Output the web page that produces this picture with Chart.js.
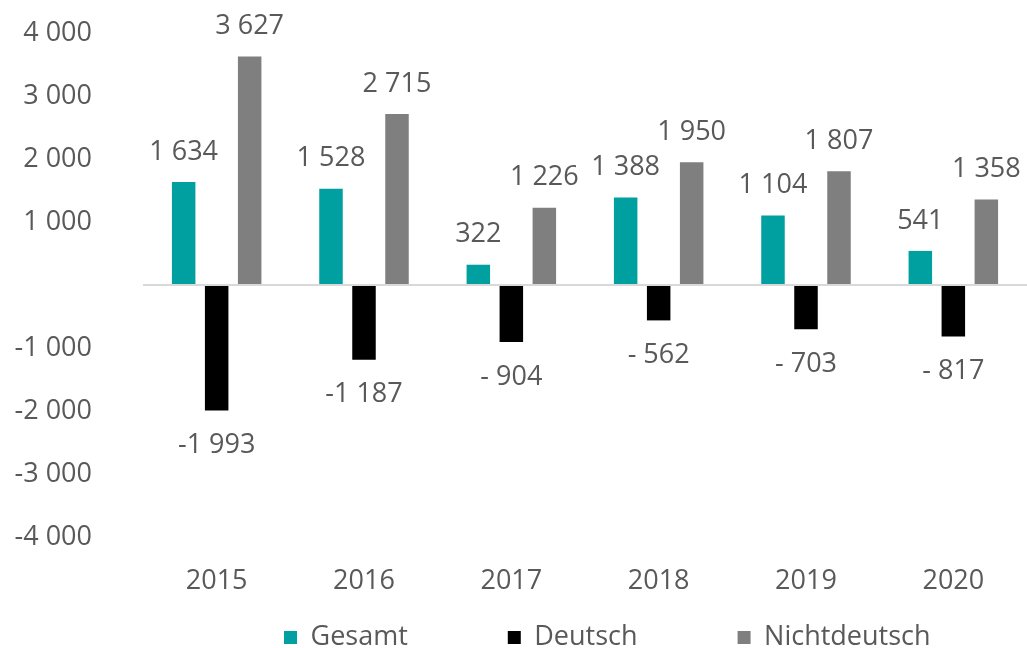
<!DOCTYPE html>
<html>
<head>
<meta charset="utf-8">
<script src="https://cdn.jsdelivr.net/npm/chart.js@4/dist/chart.umd.min.js"></script>
<style>
  html, body { margin: 0; padding: 0; background: #ffffff; }
  #wrap { width: 1027px; height: 648px; position: relative; }
</style>
</head>
<body>
<div id="wrap"><canvas id="c" width="1027" height="648"></canvas></div>
<script>
// ---- data ----
const years = ['2015', '2016', '2017', '2018', '2019', '2020'];
const seriesNames = ['Gesamt', 'Deutsch', 'Nichtdeutsch'];
const gesamt = [1634, 1528, 322, 1388, 1104, 541];
const deutsch = [-1993, -1187, -904, -562, -703, -817];
const nichtdeutsch = [3627, 2715, 1226, 1950, 1807, 1358];
const yTicks = [-4000, -3000, -2000, -1000, 0, 1000, 2000, 3000, 4000];

// ---- styling ----
const FONT = "'Open Sans', 'Liberation Sans', sans-serif";
const TEXT = '#595959';
const colors = ['#00A0A0', '#000000', '#7F7F7F'];

function group(n) {
  return String(Math.abs(Math.round(n))).replace(/\B(?=(\d{3})+(?!\d))/g, ' ');
}
function fmtLabel(v) {
  if (v < 0) return '-' + (Math.abs(v) < 1000 ? ' ' : '') + group(v);
  return group(v);
}
function fmtTick(v) {
  if (v === 0) return '';
  return (v < 0 ? '-' : '') + group(v);
}

const valueLabels = {
  id: 'valueLabels',
  afterDatasetsDraw(chart) {
    const ctx = chart.ctx;
    ctx.save();
    ctx.font = "27px " + FONT;
    ctx.fillStyle = TEXT;
    ctx.textAlign = 'center';
    ctx.textBaseline = 'middle';
    chart.data.datasets.forEach((ds, di) => {
      const meta = chart.getDatasetMeta(di);
      meta.data.forEach((bar, i) => {
        const v = ds.data[i];
        const y = v >= 0 ? bar.y - 30 : bar.y + 35;
        ctx.fillText(fmtLabel(v), bar.x, y);
      });
    });
    ctx.restore();
  }
};

const legendTweak = {
  id: 'legendTweak',
  beforeUpdate(chart) {
    const lg = chart.legend;
    if (!lg || lg._tweaked) return;
    lg._tweaked = true;
    const fit = lg.fit;
    lg.fit = function () { fit.call(this); this.height = 40; };
    const draw = lg._draw;
    lg._draw = function () {
      const t = this.top, l = this.left, r = this.right;
      const p = this.options.labels.padding;
      const dx = (284 - p) - l;
      this.top = t - p + 16;
      this.left = l + dx;
      this.right = r + dx;
      draw.call(this);
      this.top = t; this.left = l; this.right = r;
    };
  }
};

new Chart(document.getElementById('c'), {
  type: 'bar',
  data: {
    labels: years,
    datasets: [
      { label: seriesNames[0], data: gesamt, backgroundColor: colors[0] },
      { label: seriesNames[1], data: deutsch, backgroundColor: colors[1] },
      { label: seriesNames[2], data: nichtdeutsch, backgroundColor: colors[2] }
    ]
  },
  options: {
    responsive: false,
    animation: false,
    events: [],
    layout: { padding: { top: 33, right: 0, bottom: 0, left: 0 } },
    datasets: { bar: { categoryPercentage: 0.672, barPercentage: 0.712 } },
    scales: {
      x: {
        grid: { display: false },
        border: { display: false },
        ticks: { color: TEXT, font: { family: FONT, size: 27 }, padding: 20 },
        afterFit(s) { s.height = 71; s.paddingLeft = 0; s.paddingRight = 0; }
      },
      y: {
        min: -4000, max: 4000,
        afterBuildTicks(s) { s.ticks = yTicks.map(v => ({ value: v })); },
        grid: {
          drawTicks: false,
          color: c => (c.tick && c.tick.value === 0 ? '#D9D9D9' : 'rgba(0,0,0,0)'),
          lineWidth: c => (c.tick && c.tick.value === 0 ? 2 : 0)
        },
        border: { display: false },
        ticks: {
          color: TEXT, font: { family: FONT, size: 27 }, padding: 51,
          callback: v => fmtTick(v)
        },
        afterFit(s) { s.width = 143; s.paddingTop = 0; s.paddingBottom = 0; }
      }
    },
    plugins: {
      tooltip: { enabled: false },
      legend: {
        position: 'bottom',
        align: 'start',
        labels: {
          color: TEXT,
          font: { family: FONT, size: 27 },
          boxWidth: 13, boxHeight: 13,
          padding: 100
        }
      }
    }
  },
  plugins: [valueLabels, legendTweak]
});
</script>
</body>
</html>
